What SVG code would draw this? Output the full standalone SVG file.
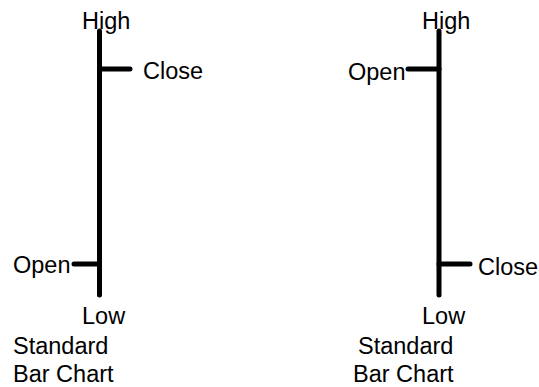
<svg xmlns="http://www.w3.org/2000/svg" width="539" height="387" viewBox="0 0 539 387">
<style>
text{font-family:"Liberation Sans",Arial,sans-serif;font-size:23.5px;fill:#000}
.bar{stroke:#000;stroke-width:5;stroke-linecap:round;fill:none}
</style>
<rect width="539" height="387" fill="#fff"/>
<g id="connectors">
<line class="bar" x1="99.5" y1="31" x2="99.5" y2="295"/>
<line class="bar" x1="99.5" y1="69" x2="130" y2="69"/>
<line class="bar" x1="74" y1="264" x2="99.5" y2="264"/>
<line class="bar" x1="439" y1="31" x2="439" y2="295"/>
<line class="bar" x1="408" y1="69" x2="439" y2="69"/>
<line class="bar" x1="439" y1="264" x2="470" y2="264"/>
</g>
<g id="left-chart">
<text x="82" y="29">High</text>
<text x="143" y="79">Close</text>
<text x="13" y="273">Open</text>
<text x="82" y="324">Low</text>
<text x="13" y="354">Standard</text>
<text x="13" y="382">Bar Chart</text>
</g>
<g id="right-chart">
<text x="422" y="29">High</text>
<text x="348" y="80">Open</text>
<text x="478" y="275">Close</text>
<text x="422" y="324">Low</text>
<text x="358" y="354">Standard</text>
<text x="353" y="382">Bar Chart</text>
</g>
</svg>
